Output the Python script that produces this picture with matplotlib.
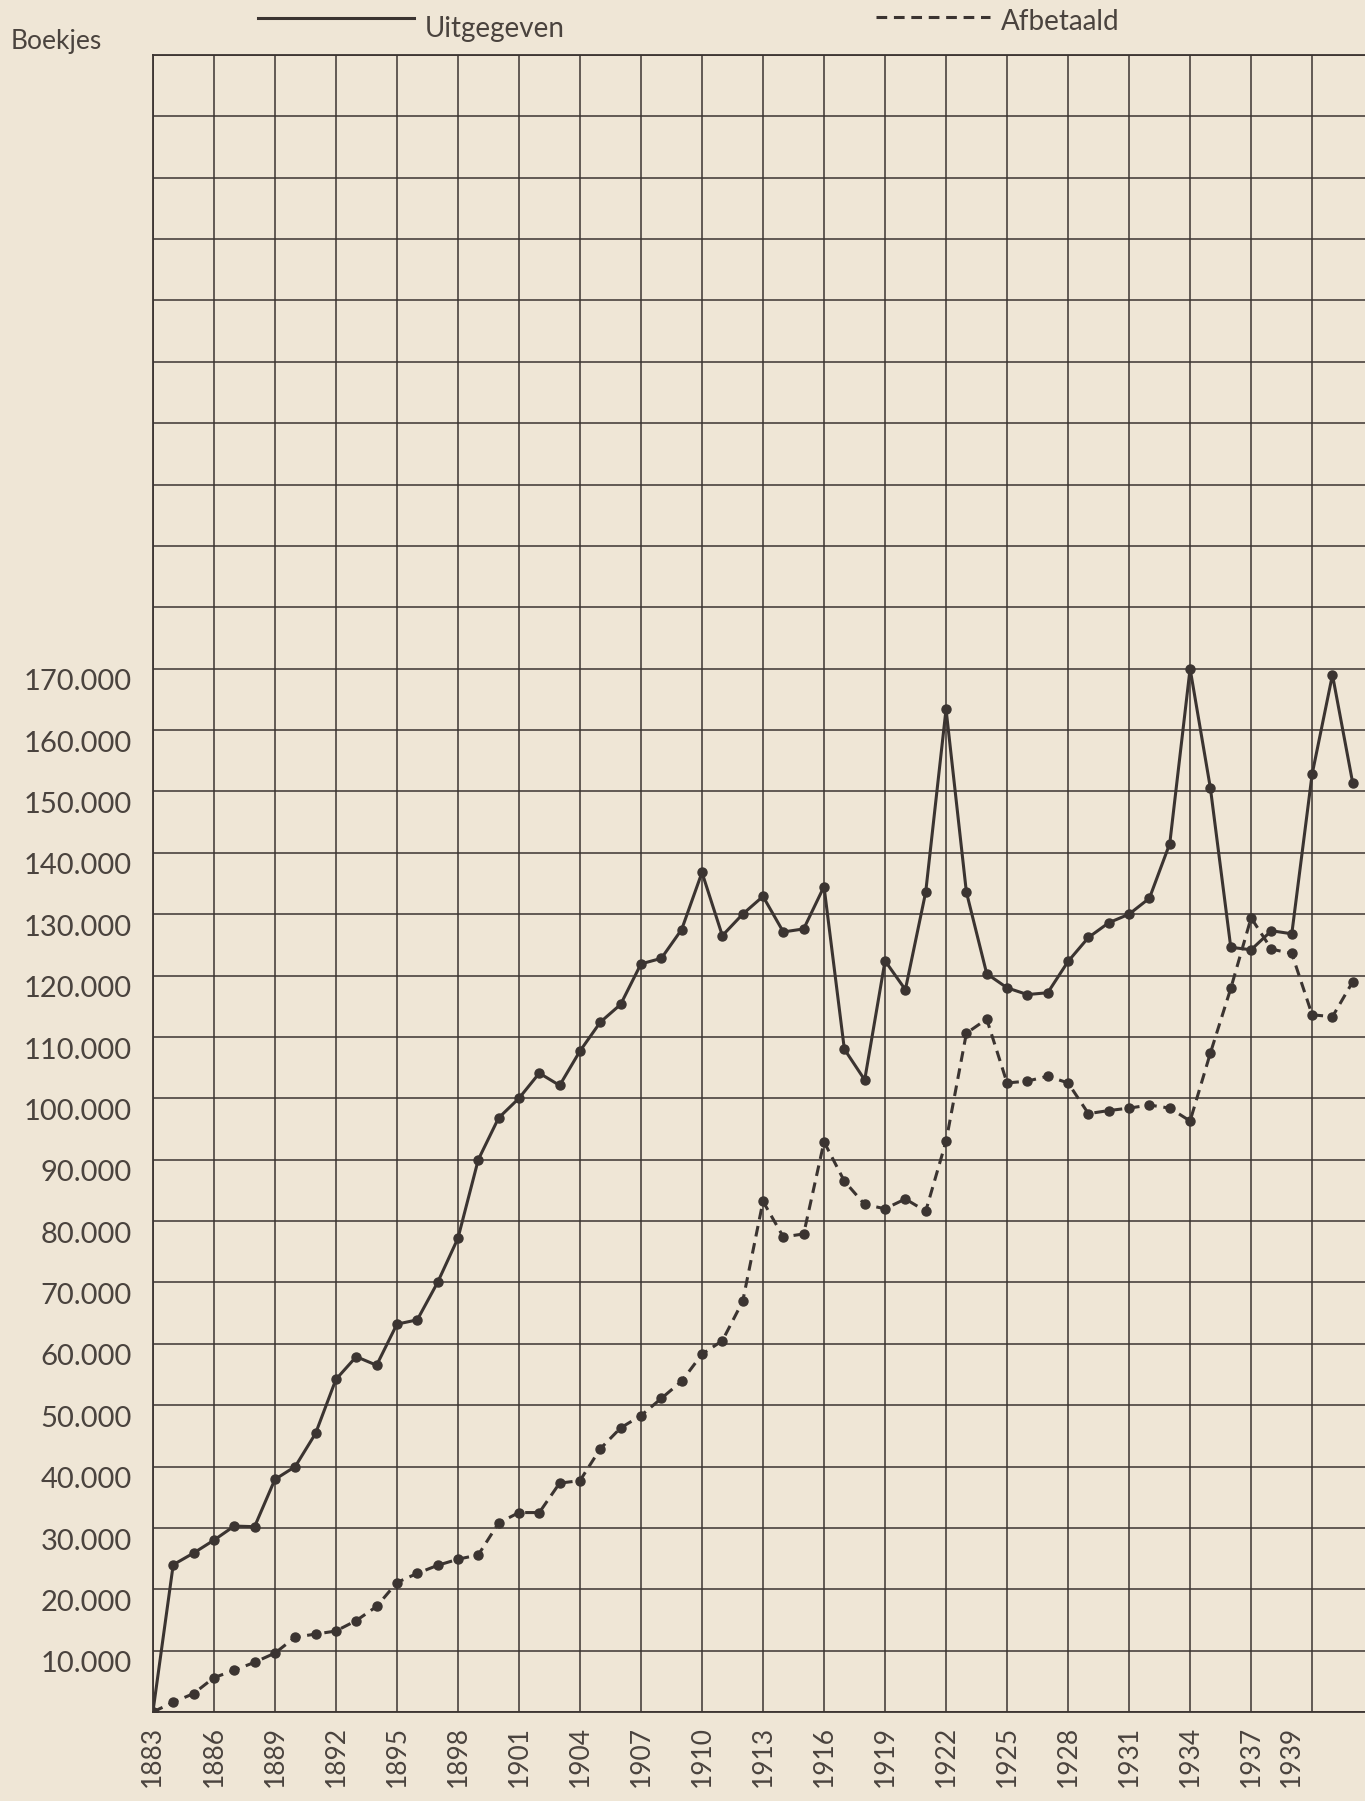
import matplotlib
matplotlib.use('Agg')
import matplotlib.pyplot as plt
import matplotlib.transforms as mtransforms
from matplotlib.lines import Line2D
import numpy as np

# data (number of booklets)
years = list(range(1883, 1943))
uitgegeven = [0, 24000, 25900, 28000, 30300, 30200, 37900, 40000, 45400, 54200,
              57900, 56500, 63200, 63900, 70000, 77200, 90000, 96800, 100000, 104100,
              102100, 107700, 112400, 115300, 121900, 122800, 127500, 136800, 126500, 130000,
              132900, 127100, 127600, 134500, 108000, 103000, 122400, 117700, 133600, 163400,
              133600, 120300, 118000, 116900, 117200, 122300, 126200, 128600, 130000, 132600,
              141500, 170000, 150500, 124600, 124200, 127300, 126800, 152800, 169000, 151300]
afbetaald = [0, 1600, 3000, 5600, 6800, 8100, 9600, 12200, 12700, 13200,
             14900, 17200, 21100, 22600, 23900, 24900, 25600, 30800, 32500, 32500,
             37300, 37700, 42900, 46300, 48300, 51100, 53900, 58300, 60500, 66900,
             83200, 77400, 77900, 92900, 86500, 82700, 82000, 83600, 81600, 93000,
             110600, 112900, 102500, 102800, 103600, 102500, 97500, 98000, 98400, 98900,
             98400, 96300, 107400, 117900, 129400, 124300, 123600, 113600, 113300, 119000]

year_ticks = list(range(1883, 1941, 3))
year_labels = [str(y) for y in year_ticks[:-1]] + ['']
extra_year = 1939
y_ticks = list(range(10000, 180000, 10000))
y_labels = ['{:,}'.format(v).replace(',', '.') for v in y_ticks]

bg = '#efe6d6'
ink = '#3b3431'
txt = '#4a433e'

plt.rcParams['font.family'] = ['Lato', 'DejaVu Sans']

fig = plt.figure(figsize=(13.65, 18.01), dpi=100, facecolor=bg)
ax = fig.add_axes([0.112, 0.0494, 0.888, 0.9201])
ax.set_facecolor(bg)

ax.plot(years, uitgegeven, color=ink, lw=2.2, marker='o', ms=6.5, zorder=3)
ax.plot(years, afbetaald, color=ink, lw=2.2, marker='o', ms=6.5, dashes=(3.5, 2.2), zorder=3)

ax.set_xlim(1883, 1942.6)
ax.set_ylim(0, 270000)

# grid: every 3 years, every 10.000 booklets
ax.set_xticks(year_ticks)
ax.set_xticklabels(year_labels, rotation=90, fontsize=19, color=txt)
ax.set_xticks([extra_year], minor=True)
ax.set_xticklabels([str(extra_year)], minor=True, rotation=90, fontsize=19, color=txt)
ax.set_yticks(list(range(0, 280000, 10000)))
ax.set_yticklabels([''] + y_labels + [''] * 10, fontsize=21, color=txt)

ax.grid(True, color=ink, lw=1.1)
ax.tick_params(axis='both', which='both', length=0)
ax.tick_params(axis='x', which='both', pad=10)
ax.tick_params(axis='y', pad=15)

# y labels sit a little below their grid line
offset = mtransforms.ScaledTranslation(0, -8 / 72, fig.dpi_scale_trans)
for lab in ax.get_yticklabels():
    lab.set_transform(lab.get_transform() + offset)

for side in ['left', 'bottom', 'top']:
    ax.spines[side].set_color(ink)
    ax.spines[side].set_linewidth(1.3)
ax.spines['right'].set_visible(False)

fig.text(0.008, 0.977, 'Boekjes', fontsize=19, color=txt, va='center', ha='left')

# legend drawn above the grid
fig.add_artist(Line2D([0.189, 0.303], [0.990, 0.990], color=ink, lw=2.2))
fig.text(0.311, 0.984, 'Uitgegeven', fontsize=20, color=txt, va='center', ha='left')
fig.add_artist(Line2D([0.642, 0.725], [0.9905, 0.9905], color=ink, lw=2.2, dashes=(3.5, 2.2)))
fig.text(0.733, 0.988, 'Afbetaald', fontsize=20, color=txt, va='center', ha='left')

fig.savefig('out.png', dpi=100, facecolor=bg)
